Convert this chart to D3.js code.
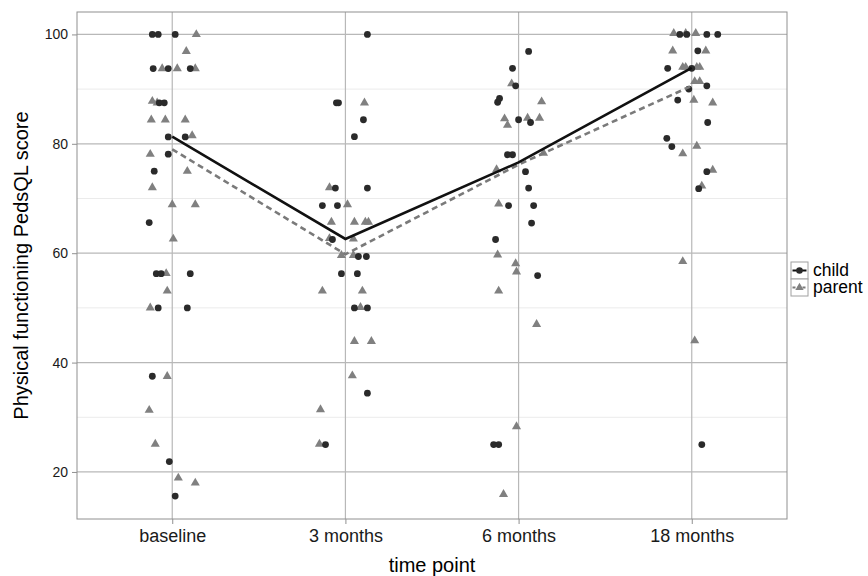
<!DOCTYPE html>
<html>
<head>
<meta charset="utf-8">
<script src="https://cdn.jsdelivr.net/npm/d3@7"></script>
<style>
  body { margin: 0; background: #fff; }
  svg { display: block; font-family: "Liberation Sans", Arial, sans-serif; }
</style>
</head>
<body>
<svg id="chart" width="868" height="576"></svg>
<script>
// time points on the x axis
const timePoints = ["baseline", "3 months", "6 months", "18 months"];

// summary lines
const childMean = [81.3, 62.6, 76.6, 93.9];
const parentMean = [79.0, 59.8, 76.2, 90.6];

// jittered raw scores: [time index, jitter, score]
const childPoints = [
  [0,-0.115,100],[0,-0.081,100],[0,0.017,100],
  [0,-0.11,93.75],[0,-0.023,93.75],[0,0.104,93.75],
  [0,-0.075,87.5],[0,-0.046,87.5],
  [0,-0.023,81.25],[0,0.075,81.25],
  [0,-0.023,78.1],[0,-0.104,75],[0,-0.133,65.6],
  [0,-0.092,56.25],[0,-0.064,56.25],[0,0.104,56.25],
  [0,-0.081,50],[0,0.087,50],
  [0,-0.115,37.5],[0,-0.017,21.9],[0,0.017,15.6],

  [1,0.127,100],
  [1,-0.052,87.5],[1,-0.04,87.5],
  [1,0.104,84.4],[1,0.052,81.3],
  [1,-0.058,71.9],[1,0.127,71.9],
  [1,-0.133,68.7],[1,-0.046,68.7],
  [1,-0.075,62.5],
  [1,0.075,59.4],[1,0.121,59.4],
  [1,-0.023,56.25],[1,0.069,56.25],
  [1,0.052,50],[1,0.127,50],
  [1,0.127,34.4],[1,-0.115,25],

  [2,0.058,96.9],[2,-0.035,93.8],[2,-0.017,90.6],
  [2,-0.121,87.6],[2,-0.11,88.3],
  [2,0,84.4],[2,0.069,83.9],
  [2,-0.064,78],[2,-0.035,78],
  [2,0.04,74.9],[2,0.058,71.9],
  [2,-0.058,68.7],[2,0.087,68.7],
  [2,0.075,65.5],[2,-0.133,62.5],[2,0.11,55.9],
  [2,-0.144,25],[2,-0.115,25],

  [3,-0.069,100],[3,-0.029,100],[3,0.087,100],[3,0.15,100],
  [3,0.035,97],
  [3,-0.139,93.8],[3,0,93.8],
  [3,0.087,90.6],[3,-0.017,90],[3,-0.081,88],
  [3,0.092,83.9],[3,-0.144,81],[3,-0.115,79.5],
  [3,0.087,74.9],[3,0.04,71.8],[3,0.058,25]
];

const parentPoints = [
  [0,0.139,100],[0,0.081,96.9],
  [0,-0.058,93.75],[0,0.029,93.75],[0,0.133,93.75],
  [0,-0.115,87.8],[0,-0.087,87.5],
  [0,-0.121,84.4],[0,-0.04,84.4],[0,0.075,84.4],
  [0,0.115,81.5],[0,-0.127,78.1],[0,0.087,75],[0,-0.115,72],
  [0,0,68.9],[0,0.133,68.9],
  [0,0.006,62.6],[0,-0.035,56.3],[0,-0.029,53.1],[0,-0.127,50],
  [0,-0.029,37.5],[0,-0.133,31.3],[0,-0.098,25.1],
  [0,0.035,18.9],[0,0.133,18],

  [1,0.11,87.5],[1,-0.092,72],[1,0.012,68.9],
  [1,-0.081,65.7],[1,0.052,65.7],[1,0.115,65.7],[1,0.133,65.7],
  [1,-0.092,62.7],[1,0.046,62.6],
  [1,-0.023,59.6],[1,0.046,59.6],
  [1,-0.133,53.1],[1,0.098,53.1],
  [1,0.087,50.1],
  [1,0.052,43.9],[1,0.15,43.9],
  [1,0.04,37.6],[1,-0.144,31.4],[1,-0.15,25.1],

  [2,-0.04,91],[2,0.133,87.7],
  [2,-0.081,84.6],[2,-0.064,83.4],[2,0.052,84.7],[2,0.121,84.7],
  [2,0.144,78.3],[2,-0.127,75.3],[2,-0.115,69],
  [2,-0.121,59.7],[2,-0.017,58.1],[2,-0.012,56.6],
  [2,-0.115,53.1],[2,0.104,47],[2,-0.012,28.3],[2,-0.087,15.9],

  [3,-0.104,100.2],[3,-0.035,100.2],[3,0.023,100.2],
  [3,-0.11,97],[3,0.081,97],
  [3,-0.052,94],[3,-0.035,94],[3,0.029,94],[3,0.046,94],
  [3,0.017,91.4],[3,0.046,91.4],
  [3,0.012,88],[3,0.121,87.5],
  [3,0.029,79.6],[3,-0.052,78.2],[3,0.121,75.2],[3,0.058,72.3],
  [3,-0.052,58.5],[3,0.017,44]
];

const yTicks = [20, 40, 60, 80, 100];
const yMinor = [30, 50, 70, 90];

const svg = d3.select("#chart");
const panel = { left: 77, right: 787, top: 12, bottom: 519 };

const x = d3.scaleLinear().domain([-0.55, 3.55]).range([panel.left, panel.right]);
const y = d3.scaleLinear().domain([11.4, 104.1]).range([panel.bottom, panel.top]);

// panel background + grid
svg.append("rect")
  .attr("x", panel.left).attr("y", panel.top)
  .attr("width", panel.right - panel.left).attr("height", panel.bottom - panel.top)
  .attr("fill", "#fff");

svg.append("g").selectAll("line")
  .data(yMinor).enter().append("line")
  .attr("x1", panel.left).attr("x2", panel.right)
  .attr("y1", d => y(d)).attr("y2", d => y(d))
  .attr("stroke", "#ebebeb").attr("stroke-width", 1);

svg.append("g").selectAll("line")
  .data(yTicks).enter().append("line")
  .attr("x1", panel.left).attr("x2", panel.right)
  .attr("y1", d => y(d)).attr("y2", d => y(d))
  .attr("stroke", "#b8b8b8").attr("stroke-width", 1.2);

svg.append("g").selectAll("line")
  .data(d3.range(timePoints.length)).enter().append("line")
  .attr("x1", d => x(d)).attr("x2", d => x(d))
  .attr("y1", panel.top).attr("y2", panel.bottom)
  .attr("stroke", "#b8b8b8").attr("stroke-width", 1.2);

// points
svg.append("g").selectAll("path")
  .data(parentPoints).enter().append("path")
  .attr("d", d3.symbol().type(d3.symbolTriangle).size(36))
  .attr("transform", d => "translate(" + x(d[0] + d[1]) + "," + y(d[2]) + ")")
  .attr("fill", "#808080");

svg.append("g").selectAll("circle")
  .data(childPoints).enter().append("circle")
  .attr("cx", d => x(d[0] + d[1]))
  .attr("cy", d => y(d[2]))
  .attr("r", 3.4)
  .attr("fill", "#2a2a2a");

// summary lines
const line = d3.line()
  .x((d, i) => x(i))
  .y(d => y(d));

svg.append("path")
  .attr("d", line(parentMean))
  .attr("fill", "none")
  .attr("stroke", "#7a7a7a")
  .attr("stroke-width", 2.6)
  .attr("stroke-dasharray", "6,4");

svg.append("path")
  .attr("d", line(childMean))
  .attr("fill", "none")
  .attr("stroke", "#111")
  .attr("stroke-width", 2.6);

// panel border
svg.append("rect")
  .attr("x", panel.left).attr("y", panel.top)
  .attr("width", panel.right - panel.left).attr("height", panel.bottom - panel.top)
  .attr("fill", "none").attr("stroke", "#909090").attr("stroke-width", 1);

// axes
const yAxis = svg.append("g")
  .attr("transform", "translate(" + panel.left + ",0)")
  .call(d3.axisLeft(y).tickValues(yTicks).tickSize(5).tickPadding(4));
yAxis.select(".domain").remove();
yAxis.selectAll("line").attr("stroke", "#909090");
yAxis.selectAll("text")
  .attr("font-size", 14).attr("fill", "#1a1a1a")
  .style("font-family", "'Liberation Sans', Arial, sans-serif");

const xAxis = svg.append("g")
  .attr("transform", "translate(0," + panel.bottom + ")")
  .call(d3.axisBottom(x).tickValues(d3.range(timePoints.length))
    .tickFormat(i => timePoints[i]).tickSize(5).tickPadding(5));
xAxis.select(".domain").remove();
xAxis.selectAll("line").attr("stroke", "#909090");
xAxis.selectAll("text")
  .attr("font-size", 18).attr("fill", "#1a1a1a")
  .style("font-family", "'Liberation Sans', Arial, sans-serif");

// axis titles
svg.append("text")
  .attr("x", (panel.left + panel.right) / 2).attr("y", 572)
  .attr("text-anchor", "middle")
  .attr("font-size", 20)
  .text("time point");

svg.append("text")
  .attr("transform", "translate(28," + (panel.top + panel.bottom) / 2 + ") rotate(-90)")
  .attr("text-anchor", "middle")
  .attr("font-size", 20)
  .text("Physical functioning PedsQL score");

// legend
const legend = svg.append("g").attr("transform", "translate(791,262)");
const keys = [
  { label: "child", color: "#111", dash: null, shape: "circle" },
  { label: "parent", color: "#7a7a7a", dash: "3,2", shape: "triangle" }
];
keys.forEach(function(k, i) {
  const g = legend.append("g").attr("transform", "translate(0," + i * 17 + ")");
  g.append("rect")
    .attr("width", 17).attr("height", 17)
    .attr("fill", "#fff").attr("stroke", "#a0a0a0").attr("stroke-width", 1);
  g.append("line")
    .attr("x1", 1.5).attr("x2", 15.5).attr("y1", 8.5).attr("y2", 8.5)
    .attr("stroke", k.color).attr("stroke-width", 2)
    .attr("stroke-dasharray", k.dash);
  if (k.shape === "circle") {
    g.append("circle").attr("cx", 8.5).attr("cy", 8.5).attr("r", 3.3).attr("fill", "#2a2a2a");
  } else {
    g.append("path")
      .attr("d", d3.symbol().type(d3.symbolTriangle).size(30))
      .attr("transform", "translate(8.5,8.5)")
      .attr("fill", "#808080");
  }
  g.append("text")
    .attr("x", 22).attr("y", 14)
    .attr("font-size", 17.5)
    .text(k.label);
});
</script>
</body>
</html>
